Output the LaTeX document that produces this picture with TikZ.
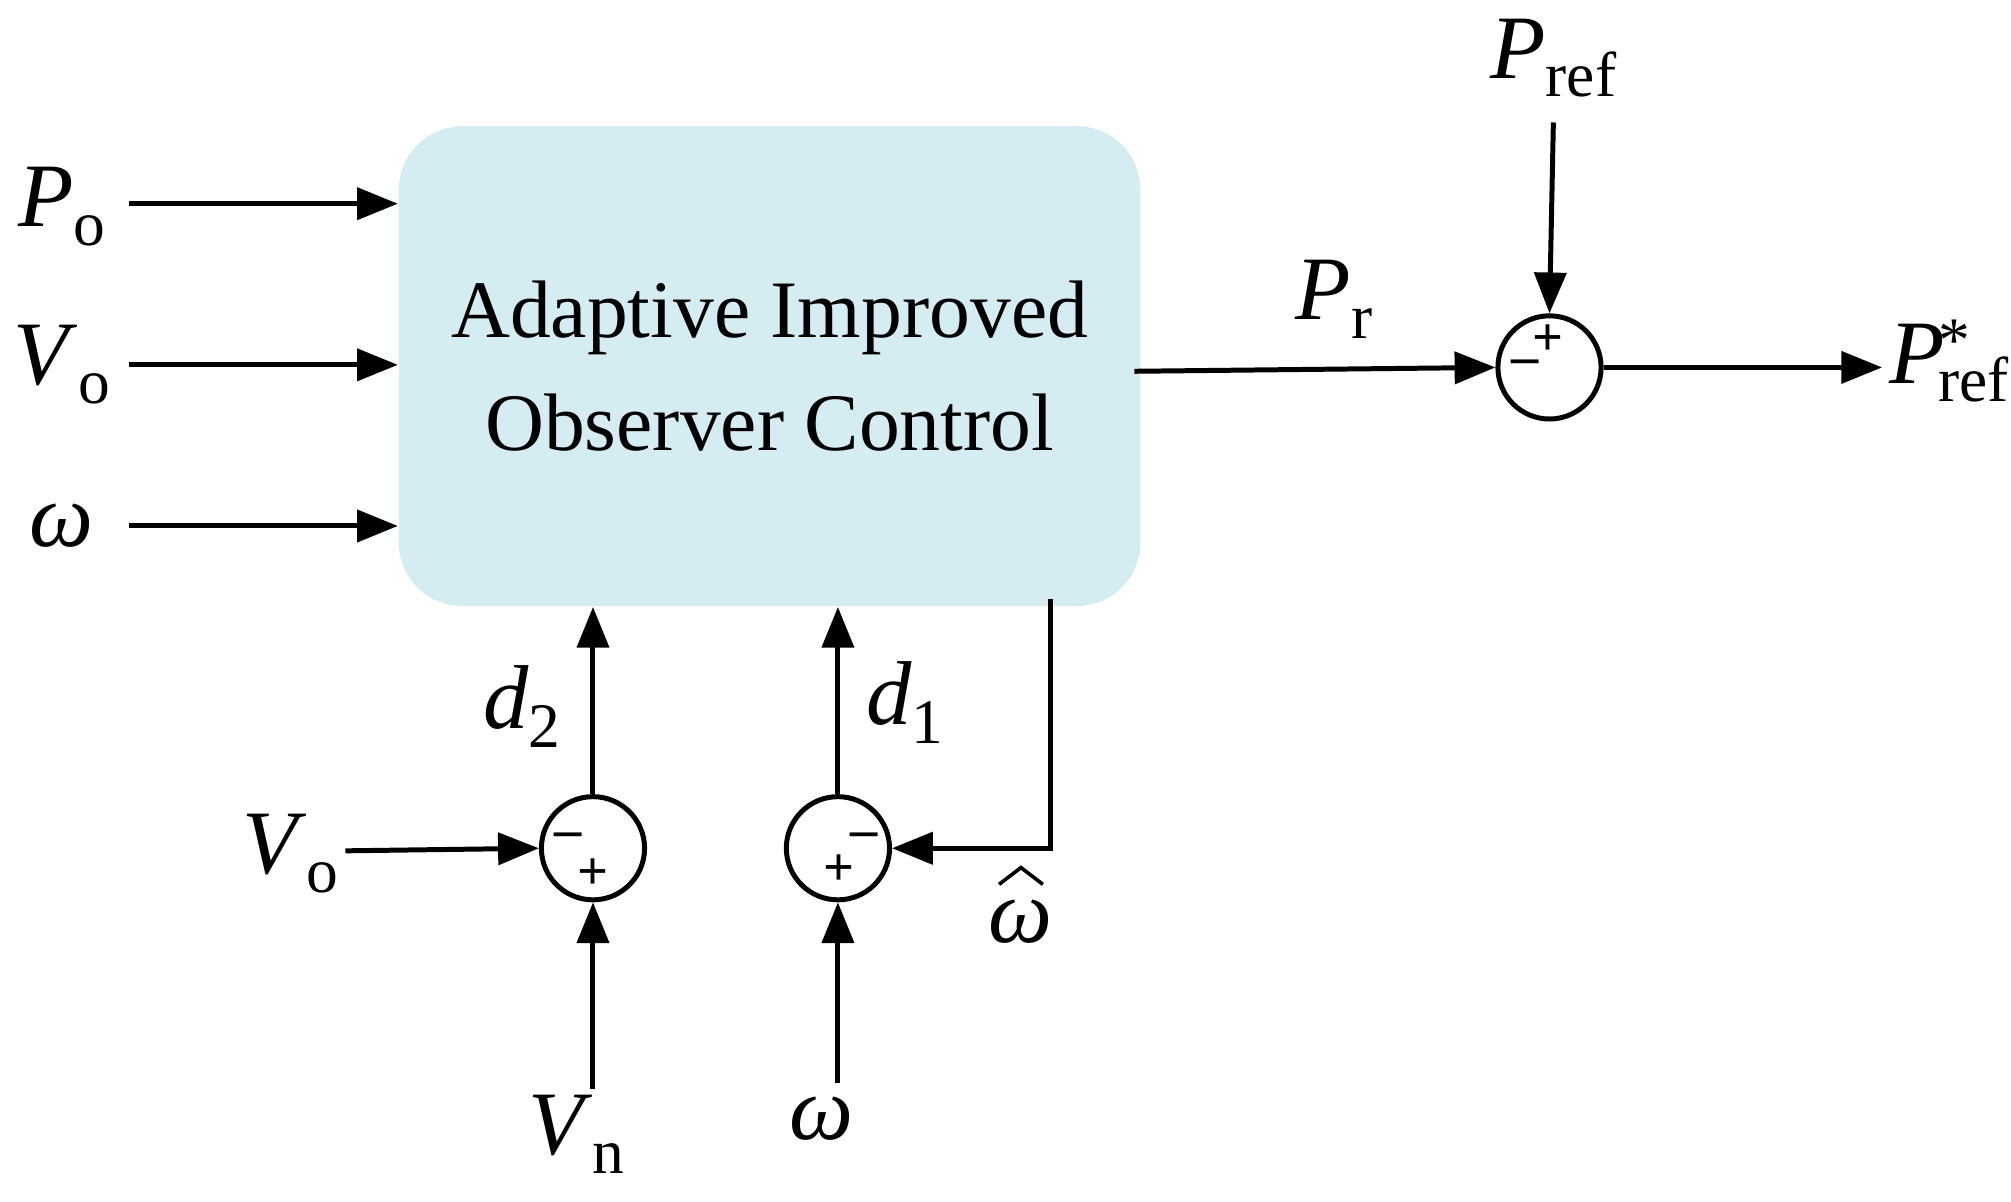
\documentclass[tikz,border=0pt]{standalone}
\usepackage{fontspec}
\setmainfont{Liberation Serif}
\usetikzlibrary{arrows.meta,calc,positioning}
\newcommand{\sym}[2]{\textit{#1}\raisebox{-0.45ex}{\fontsize{14}{14}\selectfont #2}}

\begin{document}
\begin{tikzpicture}[x=0.01cm,y=-0.01cm,
  sig/.style={-{Triangle[length=9pt,width=7pt]},line width=1.1pt},
  sumnode/.style={draw,circle,line width=1.1pt,minimum size=0.8cm,inner sep=0pt},
  lab/.style={font=\fontsize{20}{22}\selectfont},
  sgn/.style={font=\bfseries\fontsize{12}{12}\selectfont,inner sep=0pt}]
\useasboundingbox (0,0) rectangle (1560,932);
% the observer block
\node[fill={rgb,255:red,213;green,236;blue,242},rounded corners=14pt,
  minimum width=5.75cm,minimum height=3.72cm,
  font=\fontsize{18}{25}\selectfont,align=center] (obs) at (597,284)
  {Adaptive Improved\\Observer Control};
% summing junctions
\node[sumnode] (s1) at (1202,285) {};
\node[sumnode] (s2) at (460,658) {};
\node[sumnode] (s3) at (650,658) {};
\node[sgn] at (1201,264) {+};
\node[sgn] at (1183,285) {–};
\node[sgn] at (441,652) {–};
\node[sgn] at (460,678) {+};
\node[sgn] at (670,652) {–};
\node[sgn] at (651,675) {+};
% the labels
\node[lab] (po) at (48,160) {\sym{P}{o}};
\node[lab] (vo) at (48,283) {\sym{V}{o}};
\node[lab] (w) at (48,408) {\textit{ω}};
\node[lab] (pref) at (1205,45) {\sym{P}{ref}};
\node[lab] (pr) at (1035,232) {\sym{P}{r}};
\node[lab] (pout) at (1512,280) {\textit{P}\raisebox{-0.45ex}{\fontsize{14}{14}\selectfont\hspace{-0.1em}\shortstack[l]{*\\[-0.6ex]ref}}};
\node[lab] (vo2) at (225,662) {\sym{V}{o}};
\node[lab] (vn) at (447,880) {\sym{V}{n}};
\node[lab] (w2) at (637,868) {\textit{ω}};
\node[lab] (d2) at (405,548) {\sym{d}{2}};
\node[lab] (d1) at (702,545) {\sym{d}{1}};
\node[lab] (wh) at (792,715) {\textit{ω}};
\draw[line width=0.8pt] (775,686) -- (792,673) -- (809,686);
% connectors
\coordinate (tap) at (815,465);
\draw[sig] (100,158) -- (obs.west |- 0,158);
\draw[sig] (100,283) -- (obs.west |- 0,283);
\draw[sig] (100,408) -- (obs.west |- 0,408);
\draw[sig] (880,288) -- (s1.west);
\draw[sig] (1205,95) -- (s1.north);
\draw[sig] (s1.east) -- (1460,285);
\draw[sig] (s2.north) -- (s2.north |- obs.south);
\draw[sig] (s3.north) -- (s3.north |- obs.south);
\draw[sig] (268,660) -- (s2.west);
\draw[sig] (460,845) -- (s2.south);
\draw[sig] (650,840) -- (s3.south);
\draw[sig] (tap) -- (tap |- s3.east) -- (s3.east);
\end{tikzpicture}
\end{document}
